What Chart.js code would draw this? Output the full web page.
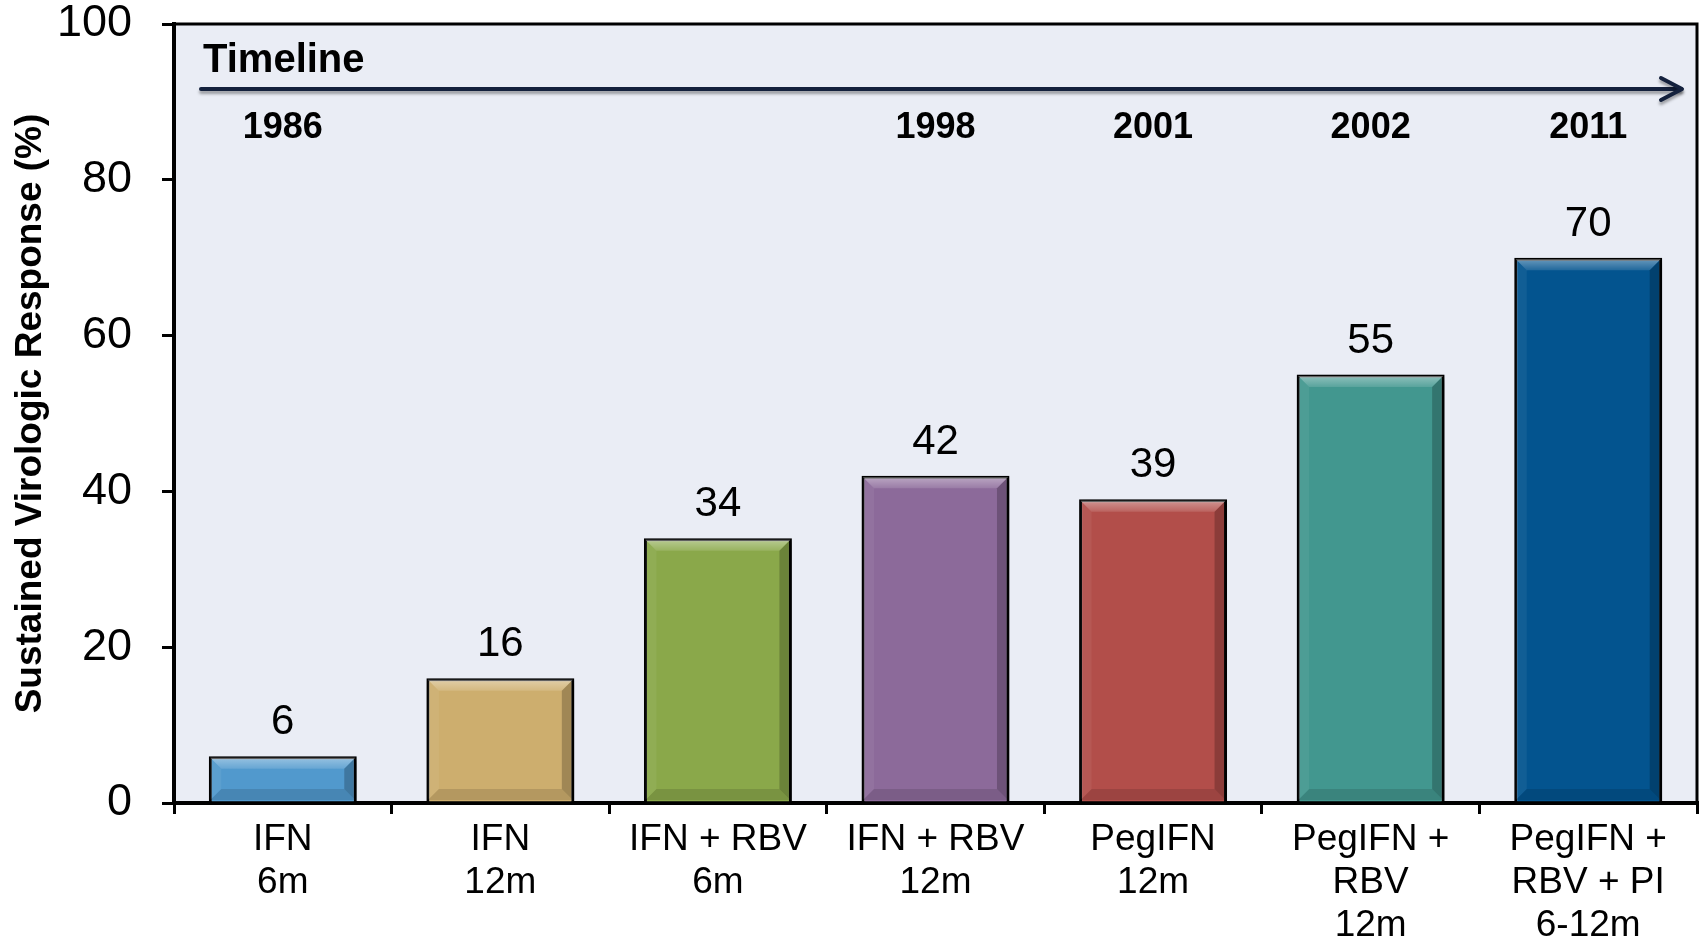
<!DOCTYPE html>
<html lang="en">
<head>
<meta charset="utf-8">
<title>Sustained Virologic Response</title>
<script src="https://cdn.jsdelivr.net/npm/chart.js@4.4.1/dist/chart.umd.min.js"></script>
<style>
  body { margin: 0; background: #fff; }
  #caixa { width: 1702px; height: 944px; }
</style>
</head>
<body>
<div id="caixa"><canvas id="cvs_grafico_svr"></canvas></div>
<script>
// dados
const categorias = [
  ["IFN", "6m"],
  ["IFN", "12m"],
  ["IFN + RBV", "6m"],
  ["IFN + RBV", "12m"],
  ["PegIFN", "12m"],
  ["PegIFN +", "RBV", "12m"],
  ["PegIFN +", "RBV + PI", "6-12m"],
];
const respostas = [6, 16, 34, 42, 39, 55, 70];
const anos = ["1986", "", "", "1998", "2001", "2002", "2011"];
const ticksY = [0, 20, 40, 60, 80, 100];

const coresBarras = ["#5199cd", "#cdae6e", "#8aa84a", "#8c6a9a", "#b24e4a", "#42978f", "#03548f"];
const fonte = '"Liberation Sans", Arial, sans-serif';

const graficoSvr = document.getElementById("cvs_grafico_svr");

// fundo lilás claro da área do gráfico + moldura
const fundoPlugin = {
  id: "fundo",
  beforeDraw(chart) {
    const a = chart.chartArea;
    const ctx = chart.ctx;
    ctx.save();
    ctx.fillStyle = "#eaedf5";
    ctx.fillRect(a.left, a.top, a.right - a.left, a.bottom - a.top);
    ctx.restore();
  },
  afterDraw(chart) {
    const a = chart.chartArea;
    const ctx = chart.ctx;
    ctx.save();
    ctx.strokeStyle = "#000";
    ctx.lineWidth = 3;
    ctx.beginPath();
    ctx.moveTo(a.left, a.top);
    ctx.lineTo(a.right, a.top);
    ctx.lineTo(a.right, a.bottom);
    ctx.stroke();
    ctx.restore();
  },
};

// sombra nas barras e chanfro (efeito 3D)
const chanfroPlugin = {
  id: "chanfro",
  beforeDatasetsDraw(chart) {
    const ctx = chart.ctx;
    ctx.save();
    ctx.shadowColor = "rgba(0,0,0,0.35)";
    ctx.shadowBlur = 6;
    ctx.shadowOffsetX = 3;
    ctx.shadowOffsetY = 3;
  },
  afterDatasetsDraw(chart) {
    const ctx = chart.ctx;
    ctx.restore();
    const s = 11;
    chart.getDatasetMeta(0).data.forEach((barra) => {
      const p = barra.getProps(["x", "y", "base", "width"], true);
      const l = p.x - p.width / 2 + 1.5;
      const r = p.x + p.width / 2 - 1.5;
      const t = Math.min(p.y, p.base) + 1.5;
      const b = Math.max(p.y, p.base) - 1.5;
      const topo = ctx.createLinearGradient(0, t, 0, t + s);
      topo.addColorStop(0, "rgba(255,255,255,0.40)");
      topo.addColorStop(1, "rgba(255,255,255,0.12)");
      const faces = [
        [[l, t], [r, t], [r - s, t + s], [l + s, t + s], topo],
        [[l, t], [l + s, t + s], [l + s, b - s], [l, b], "rgba(255,255,255,0.06)"],
        [[r, t], [r, b], [r - s, b - s], [r - s, t + s], "rgba(0,0,0,0.22)"],
        [[l, b], [r, b], [r - s, b - s], [l + s, b - s], "rgba(0,0,0,0.12)"],
      ];
      ctx.save();
      faces.forEach((f) => {
        ctx.fillStyle = f[4];
        ctx.beginPath();
        ctx.moveTo(f[0][0], f[0][1]);
        for (let i = 1; i < 4; i++) ctx.lineTo(f[i][0], f[i][1]);
        ctx.closePath();
        ctx.fill();
      });
      ctx.restore();
    });

    // valores em cima das barras
    ctx.save();
    ctx.fillStyle = "#000";
    ctx.font = "42px " + fonte;
    ctx.textAlign = "center";
    ctx.textBaseline = "alphabetic";
    chart.getDatasetMeta(0).data.forEach((barra, i) => {
      ctx.fillText(respostas[i], barra.x, barra.y - 22);
    });
    ctx.restore();
  },
};

// seta da linha do tempo e anos
const linhaTempoPlugin = {
  id: "linhaTempo",
  afterDraw(chart) {
    const a = chart.chartArea;
    const ctx = chart.ctx;
    const x = chart.scales.x;
    ctx.save();
    ctx.fillStyle = "#000";
    ctx.font = "bold 40px " + fonte;
    ctx.textAlign = "left";
    ctx.textBaseline = "alphabetic";
    ctx.fillText("Timeline", a.left + 29, a.top + 48);

    const ya = a.top + 65;
    ctx.strokeStyle = "#14213d";
    ctx.lineWidth = 4;
    ctx.lineCap = "round";
    ctx.lineJoin = "round";
    ctx.shadowColor = "rgba(0,0,0,0.35)";
    ctx.shadowBlur = 3;
    ctx.shadowOffsetY = 3;
    ctx.beginPath();
    ctx.moveTo(a.left + 27, ya);
    ctx.lineTo(a.right - 16, ya);
    ctx.stroke();
    ctx.beginPath();
    ctx.moveTo(a.right - 36, ya - 11);
    ctx.lineTo(a.right - 15, ya);
    ctx.lineTo(a.right - 36, ya + 11);
    ctx.stroke();
    ctx.shadowColor = "transparent";

    ctx.font = "bold 36px " + fonte;
    ctx.textAlign = "center";
    ctx.textBaseline = "middle";
    anos.forEach((ano, i) => {
      if (ano) ctx.fillText(ano, x.getPixelForValue(i), a.top + 104);
    });
    ctx.restore();
  },
};

Chart.defaults.font.family = fonte;
Chart.defaults.color = "#000";

new Chart(graficoSvr, {
  type: "bar",
  data: {
    labels: categorias,
    datasets: [
      {
        label: "SVR",
        data: respostas,
        backgroundColor: coresBarras,
        borderColor: "#000",
        borderWidth: 3,
        barPercentage: 0.68,
        categoryPercentage: 1,
      },
    ],
  },
  options: {
    responsive: true,
    maintainAspectRatio: false,
    animation: false,
    layout: { padding: { top: 24, right: 5, left: 0, bottom: 0 } },
    plugins: {
      legend: { display: false },
      tooltip: { enabled: false },
    },
    scales: {
      x: {
        offset: true,
        afterFit: (scale) => { scale.height = 141; },
        grid: {
          offset: true,
          drawOnChartArea: false,
          color: "#000",
          lineWidth: 3,
          tickLength: 11,
        },
        border: { color: "#000", width: 4 },
        ticks: {
          color: "#000",
          padding: 5,
          maxRotation: 0,
          autoSkip: false,
          font: { size: 37, lineHeight: 1.15 },
        },
      },
      y: {
        min: 0,
        max: 100,
        afterFit: (scale) => {
          scale.width = 174;
          scale.paddingTop = 0;
          scale.paddingBottom = 0;
        },
        afterBuildTicks: (scale) => {
          scale.ticks = ticksY.map((v) => ({ value: v }));
        },
        grid: {
          drawOnChartArea: false,
          color: "#000",
          lineWidth: 3,
          tickLength: 12,
        },
        border: { color: "#000", width: 4 },
        ticks: {
          color: "#000",
          padding: 30,
          font: { size: 45 },
        },
        title: {
          display: true,
          text: "Sustained Virologic Response (%)",
          color: "#000",
          padding: { top: 9, bottom: 0 },
          font: { size: 37, weight: "bold", lineHeight: 1.2 },
        },
      },
    },
  },
  plugins: [fundoPlugin, chanfroPlugin, linhaTempoPlugin],
});
</script>
</body>
</html>
